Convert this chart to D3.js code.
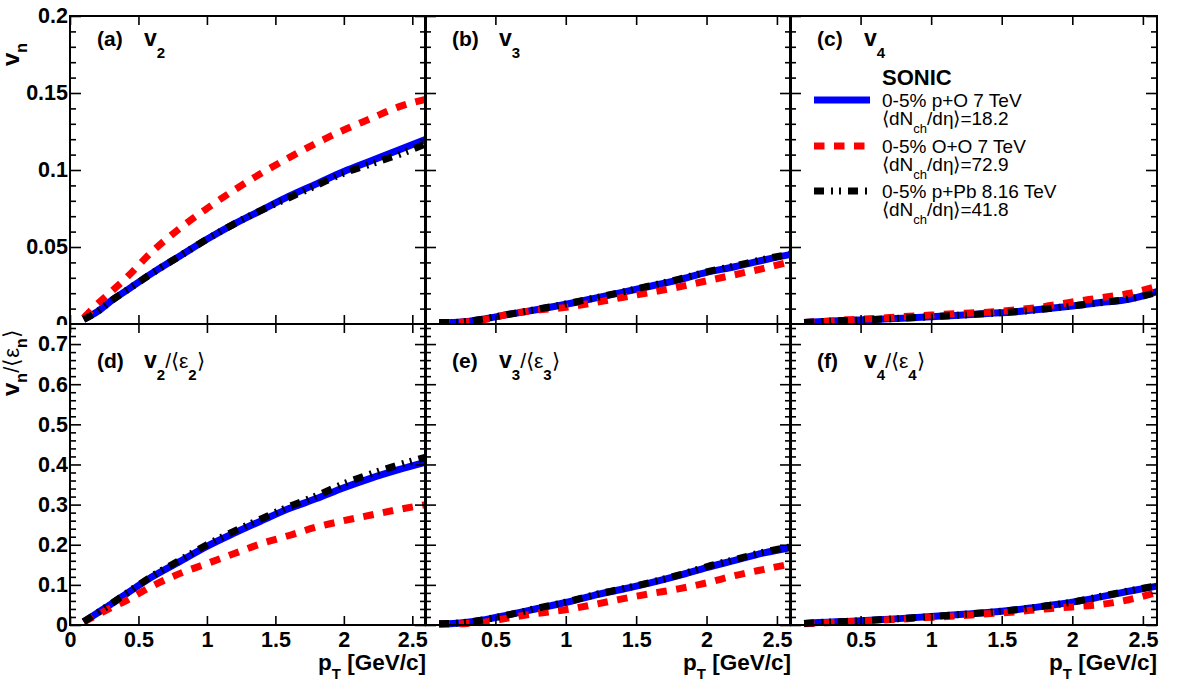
<!DOCTYPE html>
<html>
<head>
<meta charset="utf-8">
<script src="https://cdn.jsdelivr.net/npm/d3@7"></script>
<style>
  body { margin: 0; background: #fff; }
  svg { display: block; font-family: "Liberation Sans", Arial, Helvetica, sans-serif; }
</style>
</head>
<body>
<svg id="chart" width="1182" height="692"></svg>
<script>
// transverse momentum grid (GeV/c)
var pT = [0.1, 0.2, 0.3, 0.4, 0.6, 0.8, 1.0, 1.2, 1.4, 1.6, 1.8, 2.0, 2.2, 2.4, 2.6];

// (a) v2
var v2_pO  = [0.003, 0.008, 0.015, 0.021, 0.033, 0.044, 0.055, 0.065, 0.074, 0.083, 0.091, 0.099, 0.106, 0.113, 0.120];
var v2_OO  = [0.004, 0.013, 0.021, 0.029, 0.047, 0.062, 0.075, 0.087, 0.098, 0.108, 0.1175, 0.126, 0.1335, 0.141, 0.146];
var v2_pPb = [0.003, 0.008, 0.015, 0.021, 0.033, 0.044, 0.055, 0.065, 0.074, 0.082, 0.090, 0.098, 0.104, 0.110, 0.117];
// (b) v3
var v3_pO  = [0.001, 0.001, 0.0017, 0.003, 0.0063, 0.0094, 0.0128, 0.0166, 0.0205, 0.0245, 0.0286, 0.0335, 0.0372, 0.0414, 0.0452];
var v3_OO  = [0.0008, 0.001, 0.0015, 0.0025, 0.0065, 0.009, 0.0108, 0.0138, 0.0172, 0.0205, 0.024, 0.028, 0.032, 0.036, 0.0405];
var v3_pPb = [0.001, 0.001, 0.0017, 0.003, 0.0064, 0.0096, 0.013, 0.0168, 0.0207, 0.0248, 0.029, 0.0338, 0.0377, 0.0419, 0.0455];
// (c) v4
var v4_pO  = [0.001, 0.0015, 0.0019, 0.0022, 0.003, 0.0038, 0.0047, 0.0057, 0.0068, 0.008, 0.0097, 0.0117, 0.014, 0.016, 0.021];
var v4_OO  = [0.001, 0.0015, 0.002, 0.0027, 0.0036, 0.0048, 0.0058, 0.0068, 0.0077, 0.0092, 0.0113, 0.0143, 0.017, 0.0198, 0.0245];
var v4_pPb = [0.001, 0.0015, 0.0019, 0.0022, 0.003, 0.0038, 0.0047, 0.0057, 0.0068, 0.008, 0.0097, 0.0117, 0.0138, 0.0162, 0.0205];
// (d) v2/<eps2>
var e2_pO  = [0.008, 0.03, 0.052, 0.075, 0.12, 0.158, 0.196, 0.229, 0.260, 0.290, 0.315, 0.342, 0.366, 0.387, 0.406];
var e2_OO  = [0.008, 0.025, 0.043, 0.059, 0.097, 0.128, 0.153, 0.178, 0.203, 0.223, 0.244, 0.260, 0.274, 0.288, 0.300];
var e2_pPb = [0.008, 0.03, 0.053, 0.076, 0.122, 0.161, 0.200, 0.234, 0.265, 0.295, 0.322, 0.352, 0.377, 0.399, 0.418];
// (e) v3/<eps3>
var e3_pO  = [0.003, 0.004, 0.007, 0.012, 0.026, 0.041, 0.056, 0.074, 0.089, 0.105, 0.123, 0.143, 0.161, 0.179, 0.193];
var e3_OO  = [0.002, 0.003, 0.004, 0.006, 0.018, 0.029, 0.038, 0.051, 0.065, 0.078, 0.090, 0.105, 0.123, 0.138, 0.152];
var e3_pPb = [0.003, 0.004, 0.007, 0.012, 0.026, 0.042, 0.057, 0.075, 0.090, 0.106, 0.124, 0.145, 0.163, 0.181, 0.195];
// (f) v4/<eps4>
var e4_pO  = [0.004, 0.006, 0.0075, 0.009, 0.0125, 0.0165, 0.021, 0.026, 0.031, 0.038, 0.047, 0.057, 0.070, 0.084, 0.097];
var e4_OO  = [0.003, 0.005, 0.006, 0.008, 0.011, 0.015, 0.019, 0.023, 0.028, 0.033, 0.040, 0.045, 0.051, 0.063, 0.081];
var e4_pPb = [0.004, 0.006, 0.0075, 0.009, 0.0125, 0.0165, 0.021, 0.026, 0.031, 0.038, 0.047, 0.057, 0.071, 0.085, 0.098];

var xTicks = [0, 0.5, 1, 1.5, 2, 2.5];
var yTicksTop = [0, 0.05, 0.1, 0.15, 0.2];
var yTicksBottom = [0, 0.1, 0.2, 0.3, 0.4, 0.5, 0.6, 0.7];

var legendLabels = ["0-5% p+O 7 TeV", "0-5% O+O 7 TeV", "0-5% p+Pb 8.16 TeV"];
var legendMult = ["18.2", "72.9", "41.8"];

var seriesStyle = [
  { color: "#0000ff", dash: null },
  { color: "#ff0000", dash: "10.5,9.5" },
  { color: "#000000", dash: "10,7,2,6,2,7" }
];

var svg = d3.select("#chart");
var cols = [[70, 426], [425, 791], [790, 1157]];
var rows = [[16, 324], [324, 625]];
var tickFont = 21.5;

var panels = [
  { row: 0, col: 0, tag: "(a)", n: "2", ratio: false, ydom: [0, 0.2], data: [v2_pO, v2_OO, v2_pPb] },
  { row: 0, col: 1, tag: "(b)", n: "3", ratio: false, ydom: [0, 0.2], data: [v3_pO, v3_OO, v3_pPb] },
  { row: 0, col: 2, tag: "(c)", n: "4", ratio: false, ydom: [0, 0.2], data: [v4_pO, v4_OO, v4_pPb] },
  { row: 1, col: 0, tag: "(d)", n: "2", ratio: true, ydom: [0, 0.75], data: [e2_pO, e2_OO, e2_pPb] },
  { row: 1, col: 1, tag: "(e)", n: "3", ratio: true, ydom: [0, 0.75], data: [e3_pO, e3_OO, e3_pPb] },
  { row: 1, col: 2, tag: "(f)", n: "4", ratio: true, ydom: [0, 0.75], data: [e4_pO, e4_OO, e4_pPb] }
];

// text made of pieces, some lowered as subscripts
function richText(sel, parts) {
  var shift = 0;
  parts.forEach(function (p) {
    var s = p.sub || 0;
    sel.append("tspan")
      .attr("dy", s - shift)
      .attr("font-size", p.size)
      .attr("font-weight", p.bold ? "bold" : "normal")
      .text(p.t);
    shift = s;
  });
  return sel;
}

function styleAxis(g) {
  g.select(".domain").remove();
  g.selectAll(".tick line").attr("stroke", "#000").attr("stroke-width", 1.6);
  g.selectAll(".tick text").attr("fill", "#000");
}

function minorTicks(dom, step, major) {
  return d3.range(dom[0], dom[1] + step / 2, step).filter(function (v) {
    var r = v / major;
    return Math.abs(r - Math.round(r)) > 1e-6;
  });
}

function drawPanel(p) {
  var x0 = cols[p.col][0], x1 = cols[p.col][1];
  var y0 = rows[p.row][0], y1 = rows[p.row][1];
  var x = d3.scaleLinear().domain([0, 2.6]).range([x0, x1]);
  var y = d3.scaleLinear().domain(p.ydom).range([y1, y0]);
  var g = svg.append("g");

  var line = d3.line()
    .x(function (d) { return x(d[0]); })
    .y(function (d) { return y(d[1]); })
    .curve(d3.curveMonotoneX);

  p.data.forEach(function (vals, i) {
    g.append("path")
      .datum(d3.zip(pT, vals))
      .attr("d", line)
      .attr("fill", "none")
      .attr("stroke", seriesStyle[i].color)
      .attr("stroke-width", 7)
      .attr("stroke-dasharray", seriesStyle[i].dash);
  });

  g.append("rect")
    .attr("x", x0).attr("y", y0)
    .attr("width", x1 - x0).attr("height", y1 - y0)
    .attr("fill", "none").attr("stroke", "#000").attr("stroke-width", 2);

  var showX = p.row === 1;
  var xfmt = function (d) {
    if (!showX) return "";
    if (d === 0 && p.col !== 0) return "";
    return String(d);
  };
  g.append("g")
    .attr("transform", "translate(0," + y1 + ")")
    .call(d3.axisBottom(x).tickValues(xTicks).tickSize(-9).tickSizeOuter(0).tickPadding(7).tickFormat(xfmt))
    .call(styleAxis)
    .selectAll("text").attr("font-size", tickFont).attr("font-weight", "bold").attr("font-family", null);
  g.append("g")
    .attr("transform", "translate(0," + y0 + ")")
    .call(d3.axisTop(x).tickValues(xTicks).tickSize(-9).tickSizeOuter(0).tickFormat(""))
    .call(styleAxis);

  var major = p.row === 0 ? yTicksTop : yTicksBottom;
  var minorStep = p.row === 0 ? 0.01 : 0.02;
  var majorStep = p.row === 0 ? 0.05 : 0.1;
  var minor = minorTicks(p.ydom, minorStep, majorStep);
  var yfmt = function (d) { return p.col === 0 ? String(d) : ""; };

  g.append("g")
    .attr("transform", "translate(" + x0 + ",0)")
    .call(d3.axisLeft(y).tickValues(major).tickSize(-11).tickSizeOuter(0).tickPadding(2).tickFormat(yfmt))
    .call(styleAxis)
    .selectAll("text").attr("font-size", tickFont).attr("font-weight", "bold").attr("font-family", null);
  g.append("g")
    .attr("transform", "translate(" + x0 + ",0)")
    .call(d3.axisLeft(y).tickValues(minor).tickSize(-6).tickSizeOuter(0).tickFormat(""))
    .call(styleAxis);
  g.append("g")
    .attr("transform", "translate(" + x1 + ",0)")
    .call(d3.axisRight(y).tickValues(major).tickSize(-11).tickSizeOuter(0).tickFormat(""))
    .call(styleAxis);
  g.append("g")
    .attr("transform", "translate(" + x1 + ",0)")
    .call(d3.axisRight(y).tickValues(minor).tickSize(-6).tickSizeOuter(0).tickFormat(""))
    .call(styleAxis);

  // panel tag and quantity
  var by = p.row === 0 ? y0 + 30 : y0 + 44;
  g.append("text").attr("x", x0 + 27).attr("y", by)
    .attr("font-size", 21).attr("font-weight", "bold").text(p.tag);
  var q = g.append("text").attr("x", x0 + 74).attr("y", by);
  var parts = [{ t: "v", size: 23, bold: true }, { t: p.n, size: 15, bold: true, sub: 12 }];
  if (p.ratio) {
    parts.push({ t: "/\u27E8\u03B5", size: 21, bold: false });
    parts.push({ t: p.n, size: 15, bold: true, sub: 12 });
    parts.push({ t: "\u27E9", size: 21, bold: false });
  }
  richText(q, parts);

  if (showX) {
    var xt = g.append("text").attr("x", x1).attr("y", y1 + 45).attr("text-anchor", "end");
    richText(xt, [
      { t: "p", size: 22.5, bold: true },
      { t: "T", size: 15, bold: true, sub: 9 },
      { t: " [GeV/c]", size: 22.5, bold: true }
    ]);
  }
  return g;
}

panels.filter(function (p) { return p.row === 0; }).forEach(drawPanel);

// legend in panel (c)
var lg = svg.append("g");
lg.append("text").attr("x", 882).attr("y", 85)
  .attr("font-size", 22).attr("font-weight", "bold").text("SONIC");
var legendY = [107, 153, 198];
legendLabels.forEach(function (lab, i) {
  var ly = legendY[i];
  lg.append("line")
    .attr("x1", 814).attr("x2", 870)
    .attr("y1", ly - 7).attr("y2", ly - 7)
    .attr("stroke", seriesStyle[i].color)
    .attr("stroke-width", 7)
    .attr("stroke-dasharray", seriesStyle[i].dash);
  lg.append("text").attr("x", 882).attr("y", ly).attr("font-size", 19).text(lab);
  var t2 = lg.append("text").attr("x", 882).attr("y", ly + 18);
  richText(t2, [
    { t: "\u27E8dN", size: 19 },
    { t: "ch", size: 13, sub: 8 },
    { t: "/d\u03B7\u27E9=" + legendMult[i], size: 19 }
  ]);
});

// bottom pads sit over the top ones
svg.append("rect").attr("x", 0).attr("y", 325).attr("width", 1182).attr("height", 367).attr("fill", "#fff");
panels.filter(function (p) { return p.row === 1; }).forEach(drawPanel);

// y titles
var yt1 = svg.append("text").attr("transform", "translate(19,66) rotate(-90)");
richText(yt1, [
  { t: "v", size: 24, bold: true },
  { t: "n", size: 16, bold: true, sub: 8 }
]);
var yt2 = svg.append("text").attr("transform", "translate(19,396) rotate(-90)");
richText(yt2, [
  { t: "v", size: 24, bold: true },
  { t: "n", size: 16, bold: true, sub: 8 },
  { t: "/\u27E8\u03B5", size: 22 },
  { t: "n", size: 16, bold: true, sub: 8 },
  { t: "\u27E9", size: 22 }
]);
</script>
</body>
</html>
